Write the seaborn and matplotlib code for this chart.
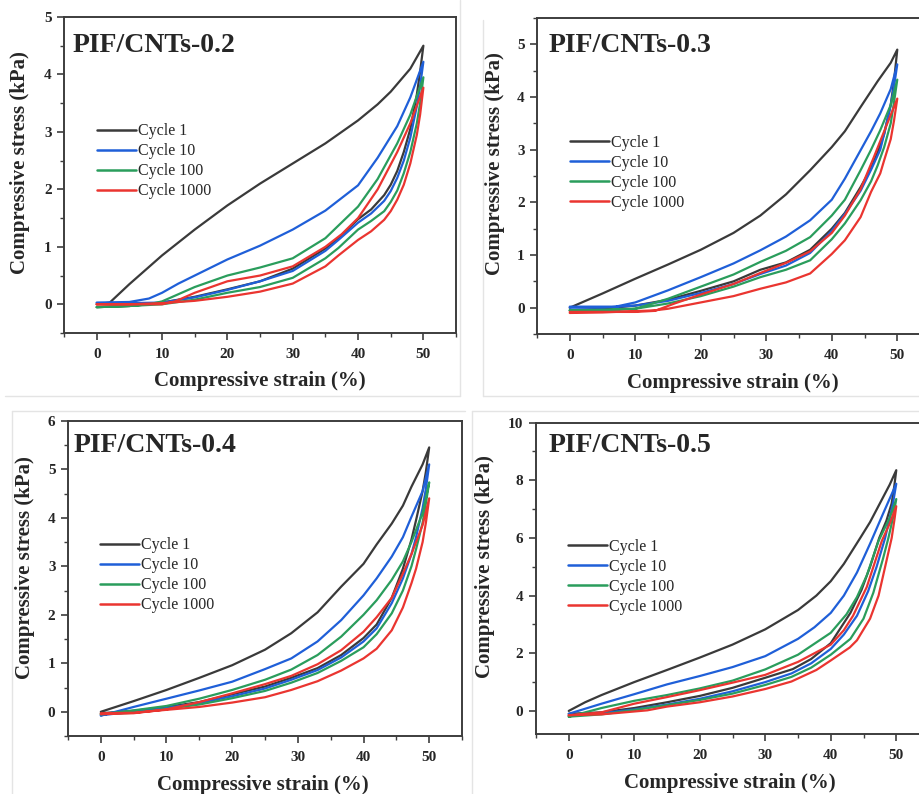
import numpy as np
import pandas as pd
import matplotlib.pyplot as plt
import seaborn as sns
from matplotlib.lines import Line2D
from matplotlib.ticker import MultipleLocator

# ---- data (strain %, stress kPa), loading then unloading ----
cycles = ['Cycle 1', 'Cycle 10', 'Cycle 100', 'Cycle 1000']
panel_titles = ['PIF/CNTs-0.2', 'PIF/CNTs-0.3', 'PIF/CNTs-0.4', 'PIF/CNTs-0.5']

# PIF/CNTs-0.2
strain_02_c1 = [0, 2, 5, 10, 15, 20, 25, 30, 35, 40, 43, 45, 48, 50,
                49.5, 49, 48, 47, 46, 45, 44, 42, 40, 37, 35, 30, 25, 20, 15, 10, 5, 0]
stress_02_c1 = [0, 0.03, 0.35, 0.85, 1.3, 1.72, 2.1, 2.45, 2.8, 3.2, 3.48, 3.7, 4.1, 4.5,
                4.05, 3.65, 3.05, 2.65, 2.32, 2.08, 1.9, 1.65, 1.48, 1.15, 0.97, 0.62, 0.4, 0.26, 0.13, 0.03, -0.03, -0.05]
strain_02_c10 = [0, 5, 8, 10, 12.5, 15, 20, 25, 30, 35, 40, 43, 46, 48, 50,
                 49.5, 49, 48, 47, 46, 45, 44, 42, 40, 37, 35, 30, 25, 20, 15, 10, 5, 0]
stress_02_c10 = [0.03, 0.04, 0.1, 0.2, 0.36, 0.5, 0.78, 1.02, 1.3, 1.63, 2.07, 2.55, 3.1, 3.6, 4.22,
                 3.8, 3.45, 2.9, 2.5, 2.2, 1.97, 1.8, 1.58, 1.42, 1.12, 0.93, 0.58, 0.4, 0.25, 0.12, 0.03, 0.02, 0.02]
strain_02_c100 = [0, 5, 8, 10, 12, 15, 20, 25, 30, 35, 40, 43, 46, 48, 50,
                  49.5, 49, 48, 47, 46, 45, 44, 42, 40, 37, 35, 30, 25, 20, 15, 10, 5, 0]
stress_02_c100 = [-0.05, -0.03, 0.0, 0.05, 0.15, 0.3, 0.5, 0.64, 0.8, 1.15, 1.7, 2.18, 2.8, 3.3, 3.95,
                  3.5, 3.15, 2.65, 2.28, 1.98, 1.78, 1.62, 1.45, 1.3, 0.98, 0.8, 0.46, 0.3, 0.2, 0.08, 0.0, -0.03, -0.05]
strain_02_c1000 = [0, 5, 10, 12, 15, 20, 25, 30, 35, 37.5, 40, 43, 46, 48, 50,
                   49.5, 49, 48, 47, 46, 45, 44, 42, 40, 37, 35, 30, 25, 20, 15, 10, 5, 0]
stress_02_c1000 = [0, 0, 0, 0.05, 0.2, 0.4, 0.5, 0.66, 1.0, 1.22, 1.5, 2.0, 2.65, 3.15, 3.77,
                   3.3, 2.95, 2.45, 2.08, 1.82, 1.62, 1.47, 1.27, 1.12, 0.85, 0.66, 0.36, 0.22, 0.13, 0.06, 0.02, 0.0, 0.0]

# PIF/CNTs-0.3
strain_03_c1 = [0, 5, 10, 15, 20, 25, 29.1, 33, 36.7, 40, 42, 44.4, 47, 49, 50,
                49.5, 49, 48, 47, 46, 44.4, 42, 40, 36.7, 33, 29.1, 25, 20, 15, 10, 5, 0]
stress_03_c1 = [0, 0.27, 0.55, 0.82, 1.1, 1.42, 1.75, 2.15, 2.61, 3.05, 3.35, 3.81, 4.3, 4.65, 4.9,
                4.3, 3.85, 3.3, 2.95, 2.65, 2.29, 1.8, 1.5, 1.1, 0.86, 0.72, 0.5, 0.32, 0.15, 0.04, -0.02, -0.05]
strain_03_c10 = [0, 7, 10, 15, 20, 25, 29.1, 33, 36.7, 40, 42, 44.4, 46, 47.4, 49, 50,
                 49.5, 49, 48, 47.4, 46, 44.4, 42, 40, 36.7, 33, 29.1, 25, 20, 15, 10, 5, 0]
stress_03_c10 = [0.02, 0.02, 0.1, 0.33, 0.58, 0.84, 1.09, 1.35, 1.66, 2.05, 2.45, 2.99, 3.35, 3.69, 4.15, 4.62,
                 4.2, 3.85, 3.3, 3.0, 2.62, 2.22, 1.78, 1.46, 1.04, 0.8, 0.64, 0.45, 0.28, 0.13, 0.04, 0.0, 0.0]
strain_03_c100 = [0, 5, 10, 15, 20, 25, 29.1, 33, 36.7, 40, 42, 44.4, 46, 47.4, 49, 50,
                  49.5, 49, 48, 47, 46, 44.4, 42, 40, 36.7, 33, 29.1, 25, 20, 15, 10, 5, 0]
stress_03_c100 = [-0.05, -0.05, -0.02, 0.17, 0.4, 0.63, 0.87, 1.08, 1.34, 1.75, 2.05, 2.61, 3.0, 3.37, 3.85, 4.33,
                  3.9, 3.5, 3.05, 2.7, 2.4, 2.04, 1.6, 1.3, 0.9, 0.72, 0.58, 0.4, 0.22, 0.08, -0.02, -0.04, -0.05]
strain_03_c1000 = [0, 5, 10, 13, 16, 20, 25, 29.1, 33, 36.7, 40, 42, 44.4, 46.4, 48, 50,
                   49.5, 49, 48, 47.4, 46, 44.4, 42, 40, 36.7, 33, 29.1, 25, 20, 15, 13, 5, 0]
stress_03_c1000 = [-0.08, -0.08, -0.08, -0.06, 0.08, 0.25, 0.45, 0.66, 0.85, 1.07, 1.42, 1.75, 2.25, 2.85, 3.35, 3.97,
                   3.55, 3.2, 2.8, 2.55, 2.2, 1.72, 1.28, 1.02, 0.65, 0.48, 0.36, 0.22, 0.1, -0.02, -0.05, -0.09, -0.1]

# PIF/CNTs-0.4
strain_04_c1 = [0, 5, 10, 15, 20, 25, 29, 33, 36.6, 40, 42, 44.3, 46, 47.3, 49, 50,
                49.5, 49, 48, 47.3, 46, 44.3, 42, 40, 36.6, 33, 29, 25, 20, 15, 10, 5, 0]
stress_04_c1 = [0, 0.22, 0.45, 0.7, 0.96, 1.28, 1.62, 2.05, 2.58, 3.05, 3.45, 3.88, 4.25, 4.64, 5.1, 5.45,
                4.95, 4.55, 3.95, 3.55, 2.95, 2.35, 1.8, 1.52, 1.17, 0.9, 0.7, 0.52, 0.36, 0.2, 0.1, 0.02, -0.03]
strain_04_c10 = [0, 5, 10, 15, 20, 25, 29, 33, 36.6, 40, 42, 44.3, 46, 47.3, 49, 50,
                 49.5, 49, 48, 47.3, 46, 44.3, 42, 40, 36.6, 33, 29, 25, 20, 15, 10, 5, 0]
stress_04_c10 = [-0.08, 0.1, 0.27, 0.44, 0.62, 0.88, 1.1, 1.45, 1.89, 2.4, 2.75, 3.2, 3.6, 4.02, 4.55, 5.1,
                 4.6, 4.2, 3.6, 3.25, 2.75, 2.24, 1.72, 1.45, 1.12, 0.86, 0.66, 0.48, 0.32, 0.18, 0.08, 0.0, -0.07]
strain_04_c100 = [0, 5, 10, 15, 20, 25, 29, 33, 36.6, 40, 42, 44.3, 46, 47.3, 49, 50,
                  49.5, 49, 48, 47.3, 46, 44.3, 42, 40, 36.6, 33, 29, 25, 20, 15, 10, 5, 0]
stress_04_c100 = [-0.05, 0.03, 0.12, 0.27, 0.45, 0.66, 0.87, 1.17, 1.55, 2.0, 2.3, 2.72, 3.1, 3.5, 4.1, 4.73,
                  4.3, 3.9, 3.35, 3.0, 2.5, 2.03, 1.6, 1.33, 1.05, 0.8, 0.6, 0.43, 0.28, 0.15, 0.06, -0.02, -0.05]
strain_04_c1000 = [0, 5, 10, 15, 20, 25, 29, 33, 36.6, 40, 42, 44.3, 46, 47.3, 49, 50,
                   49.5, 49, 48, 47.3, 46, 44.3, 42, 40, 36.6, 33, 29, 25, 20, 15, 10, 5, 0]
stress_04_c1000 = [-0.05, -0.03, 0.05, 0.2, 0.38, 0.57, 0.74, 0.98, 1.27, 1.65, 1.95, 2.35, 2.85, 3.25, 3.85, 4.4,
                   3.9, 3.5, 2.95, 2.65, 2.15, 1.68, 1.3, 1.1, 0.85, 0.63, 0.45, 0.3, 0.19, 0.1, 0.04, -0.02, -0.03]

# PIF/CNTs-0.5
strain_05_c1 = [0, 2.5, 5, 10, 15, 20, 25, 30, 35, 37.8, 40, 42, 44.5, 46, 47.5, 49, 50,
                49.7, 49.3, 48.5, 47.4, 46, 44.7, 43, 42, 40, 37, 34.2, 30, 25, 20, 15, 10, 5, 0]
stress_05_c1 = [0, 0.3, 0.55, 1.0, 1.42, 1.85, 2.3, 2.83, 3.5, 4.0, 4.5, 5.1, 6.0, 6.55, 7.2, 7.85, 8.35,
                7.8, 7.2, 6.6, 6.0, 5.0, 4.2, 3.4, 3.05, 2.35, 1.8, 1.45, 1.15, 0.8, 0.52, 0.3, 0.1, -0.05, -0.1]
strain_05_c10 = [0, 5, 10, 15, 20, 25, 30, 35, 37.5, 40, 42, 44, 46, 48, 50,
                 49.5, 49, 48.3, 47, 45.7, 44, 42, 40, 37, 34, 30, 25, 20, 15, 10, 5, 0]
stress_05_c10 = [-0.1, 0.25, 0.58, 0.92, 1.21, 1.52, 1.9, 2.5, 2.9, 3.4, 4.0, 4.8, 5.8, 6.85, 7.88,
                 7.2, 6.7, 6.0, 5.0, 4.15, 3.3, 2.65, 2.15, 1.65, 1.3, 1.0, 0.68, 0.42, 0.22, 0.05, -0.08, -0.15]
strain_05_c100 = [0, 5, 10, 15, 20, 25, 30, 35, 40, 42.4, 44, 45.5, 47.3, 49, 50,
                  49.5, 48.8, 48, 46.5, 45, 43, 40, 37, 34, 30, 25, 20, 15, 10, 5, 0]
stress_05_c100 = [-0.2, 0.1, 0.35, 0.55, 0.78, 1.05, 1.44, 1.95, 2.71, 3.35, 3.95, 4.7, 5.9, 6.7, 7.35,
                  6.7, 6.0, 5.3, 4.1, 3.2, 2.5, 1.95, 1.5, 1.18, 0.9, 0.6, 0.38, 0.2, 0.03, -0.12, -0.2]
strain_05_c1000 = [0, 5, 10, 15, 20, 25, 30, 35, 40, 42, 43.4, 45.5, 47.8, 49, 50,
                   49.7, 49.3, 48.5, 47.3, 46, 44, 42.9, 40, 37.8, 34, 30, 25, 20, 15, 12, 5, 0]
stress_05_c1000 = [-0.15, -0.05, 0.25, 0.48, 0.72, 0.98, 1.25, 1.7, 2.3, 2.8, 3.3, 4.3, 5.9, 6.5, 7.1,
                   6.6, 6.0, 5.2, 4.0, 3.2, 2.45, 2.2, 1.75, 1.42, 1.02, 0.76, 0.5, 0.3, 0.15, 0.02, -0.12, -0.15]

panel_strains = [
    [strain_02_c1, strain_02_c10, strain_02_c100, strain_02_c1000],
    [strain_03_c1, strain_03_c10, strain_03_c100, strain_03_c1000],
    [strain_04_c1, strain_04_c10, strain_04_c100, strain_04_c1000],
    [strain_05_c1, strain_05_c10, strain_05_c100, strain_05_c1000],
]
panel_stresses = [
    [stress_02_c1, stress_02_c10, stress_02_c100, stress_02_c1000],
    [stress_03_c1, stress_03_c10, stress_03_c100, stress_03_c1000],
    [stress_04_c1, stress_04_c10, stress_04_c100, stress_04_c1000],
    [stress_05_c1, stress_05_c10, stress_05_c100, stress_05_c1000],
]

# ---- style ----
sns.set_theme(style='ticks')
plt.rcParams['font.family'] = ['Liberation Serif', 'DejaVu Serif']
palette = {'Cycle 1': '#3a3a3a', 'Cycle 10': '#1f5fd8',
           'Cycle 100': '#2a9d5c', 'Cycle 1000': '#ea3530'}
frame_color = '#3d3d3d'

# axes rectangles in figure fractions and per-panel settings
rects = [[0.0696, 0.5806, 0.4261, 0.398],
         [0.5837, 0.5793, 0.4272, 0.398],
         [0.0739, 0.0730, 0.4283, 0.3971],
         [0.5826, 0.0756, 0.4272, 0.3921]]
ylims = [(-0.5, 5), (-0.5, 5.5), (-0.5, 6), (-0.8, 10)]
ymajor = [1, 1, 1, 2]
title_pos = [(0.023, 0.91), (0.029, 0.912), (0.013, 0.92), (0.031, 0.926)]
legend_pos = [(0.084, 0.664), (0.084, 0.63), (0.081, 0.63), (0.082, 0.626)]
ylabel_pos = [(-0.112, 0.538), (-0.107, 0.54), (-0.109, 0.533), (-0.13, 0.537)]
xlabel_pos = [(0.5, -0.152), (0.499, -0.155), (0.495, -0.155), (0.494, -0.156)]

fig = plt.figure(figsize=(9.2, 7.94), dpi=100)

# faint borders of the four screenshot boxes
for x0, y0, x1, y1 in [(5, 396, 460, 396), (460, 0, 460, 396), (483, 20, 483, 396),
                       (483, 396, 920, 396), (12, 411, 465, 411), (12, 411, 12, 794),
                       (472, 411, 920, 411), (472, 411, 472, 794)]:
    fig.add_artist(Line2D([x0 / 920, x1 / 920], [1 - y0 / 794, 1 - y1 / 794],
                          transform=fig.transFigure, color='#e4e4e4', lw=1))

for i in range(4):
    ax = fig.add_axes(rects[i])
    frames = []
    for c, xs, ys in zip(cycles, panel_strains[i], panel_stresses[i]):
        frames.append(pd.DataFrame({'strain': xs, 'stress': ys, 'cycle': c}))
    df = pd.concat(frames, ignore_index=True)

    sns.lineplot(data=df, x='strain', y='stress', hue='cycle', hue_order=cycles,
                 palette=palette, sort=False, estimator=None, linewidth=1.6,
                 solid_joinstyle='round', ax=ax)

    ax.set_xlim(-5, 55)
    ax.set_xticks([0, 10, 20, 30, 40, 50])
    ax.xaxis.set_minor_locator(MultipleLocator(5))
    ax.yaxis.set_major_locator(MultipleLocator(ymajor[i]))
    ax.yaxis.set_minor_locator(MultipleLocator(ymajor[i] / 2))
    ax.set_ylim(*ylims[i])

    for s in ax.spines.values():
        s.set_visible(True)
        s.set_color(frame_color)
        s.set_linewidth(1.4)
    ax.tick_params(which='major', direction='out', length=5, width=1.2,
                   color=frame_color, labelsize=11)
    ax.tick_params(axis='x', which='major', pad=6)
    ax.tick_params(axis='y', which='major', pad=4)
    ax.tick_params(which='minor', direction='out', length=3, width=1.0, color=frame_color)
    for lab in ax.get_xticklabels() + ax.get_yticklabels():
        lab.set_fontweight('bold')

    ax.set_xlabel('Compressive strain (%)', fontsize=15, fontweight='bold')
    ax.set_ylabel('Compressive stress (kPa)', fontsize=15, fontweight='bold')
    ax.xaxis.set_label_coords(*xlabel_pos[i])
    ax.yaxis.set_label_coords(*ylabel_pos[i])
    ax.xaxis.label.set_verticalalignment('center')
    ax.yaxis.label.set_verticalalignment('center')

    ax.text(title_pos[i][0], title_pos[i][1], panel_titles[i], transform=ax.transAxes,
            fontsize=20, fontweight='bold', va='center', ha='left')

    handles, labels = ax.get_legend_handles_labels()
    ax.legend(handles, labels, loc='upper left', bbox_to_anchor=legend_pos[i],
              frameon=False, fontsize=11.5, handlelength=2.45, handletextpad=0.1,
              labelspacing=0.25, borderpad=0, borderaxespad=0)
    for ln in ax.get_legend().get_lines():
        ln.set_linewidth(1.8)

fig.savefig('out.png', dpi=100)
